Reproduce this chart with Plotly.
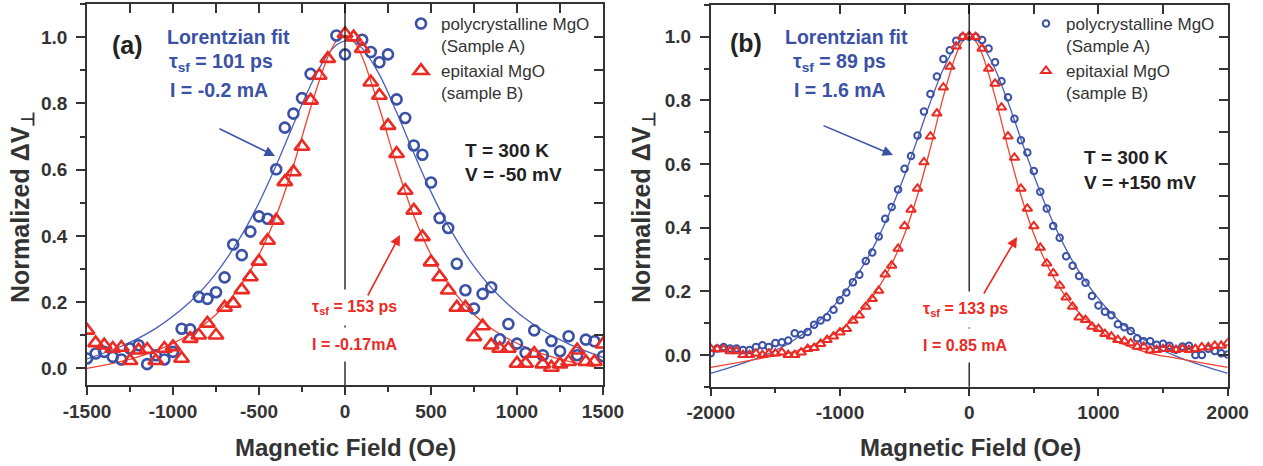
import plotly.graph_objects as go

W, H = 1263, 466

# ---------------- data : panel (a) ----------------
a_poly_x = [-1500, -1450, -1400, -1350, -1300, -1250, -1200, -1150, -1100, -1050, -1000, -950, -900,
            -850, -800, -750, -700, -650, -600, -550, -500, -450, -400, -350, -300, -250, -200,
            -50, 0, 100, 150, 200, 250, 300, 350, 400, 450, 500, 550, 600, 650, 700, 750, 800,
            850, 900, 950, 1000, 1050, 1100, 1150, 1200, 1250, 1300, 1350, 1400, 1450, 1500]
a_poly_y = [0.03, 0.045, 0.05, 0.035, 0.027, 0.06, 0.07, 0.013, 0.04, 0.027, 0.05, 0.12, 0.118,
            0.216, 0.21, 0.23, 0.275, 0.374, 0.342, 0.413, 0.459, 0.452, 0.601, 0.727, 0.769, 0.816, 0.889,
            1.005, 0.948, 0.992, 0.955, 0.924, 0.948, 0.812, 0.756, 0.673, 0.645, 0.561, 0.454, 0.424,
            0.316, 0.236, 0.181, 0.225, 0.245, 0.088, 0.134, 0.075, 0.047, 0.115, 0.040, 0.083, 0.052,
            0.097, 0.040, 0.087, 0.082, 0.037]

a_epi_x = [-1500, -1450, -1400, -1350, -1300, -1250, -1200, -1150, -1100, -1050, -1000, -950, -900,
           -850, -800, -750, -700, -650, -600, -550, -500, -450, -400, -350, -300, -250, -200, -150,
           -100, 0, 50, 100, 150, 200, 250, 300, 350, 400, 450, 500, 550, 600, 650, 700, 750, 800,
           850, 900, 950, 1000, 1050, 1100, 1150, 1200, 1250, 1300, 1350, 1400, 1450, 1500]
a_epi_y = [0.115, 0.077, 0.070, 0.060, 0.063, 0.023, 0.055, 0.057, 0.023, 0.060, 0.065, 0.030, 0.090,
           0.100, 0.136, 0.100, 0.184, 0.196, 0.237, 0.276, 0.323, 0.386, 0.447, 0.563, 0.593, 0.670,
           0.809, 0.884, 0.935, 1.010, 1.0, 0.965, 0.864, 0.824, 0.733, 0.648, 0.537, 0.477, 0.397,
           0.321, 0.276, 0.236, 0.184, 0.184, 0.095, 0.128, 0.070, 0.060, 0.060, 0.015, 0.015, 0.045,
           0.013, 0.003, 0.013, 0.020, 0.055, 0.020, 0.020, 0.073]

a_fitA_x = [-1500, -1300, -1100, -900, -750, -600, -500, -400, -300, -200, -100, -50, 0, 50, 100,
            200, 300, 400, 500, 600, 750, 900, 1100, 1300, 1500]
a_fitA_y = [0.029, 0.067, 0.121, 0.201, 0.287, 0.403, 0.500, 0.613, 0.736, 0.855, 0.948, 0.976, 0.989,
            0.986, 0.966, 0.887, 0.773, 0.650, 0.533, 0.431, 0.308, 0.217, 0.131, 0.074, 0.033]

a_fitB_x = [-1500, -1300, -1100, -900, -750, -600, -500, -400, -300, -200, -100, -50, 0, 50, 100,
            200, 300, 400, 500, 600, 750, 900, 1100, 1300, 1500]
a_fitB_y = [0.000, 0.021, 0.053, 0.104, 0.163, 0.255, 0.343, 0.461, 0.612, 0.786, 0.940, 0.988, 1.005,
            0.988, 0.940, 0.786, 0.612, 0.461, 0.343, 0.255, 0.163, 0.104, 0.053, 0.021, 0.000]

# ---------------- data : panel (b) ----------------
b_x = [-2000, -1950, -1900, -1850, -1800, -1750, -1700, -1650, -1600, -1550, -1500, -1450, -1400,
       -1350, -1300, -1250, -1200, -1150, -1100, -1050, -1000, -950, -900, -850, -800, -750, -700,
       -650, -600, -550, -500, -450, -400, -350, -300, -250, -200, -150, -100, -50, 0, 50, 100, 150,
       200, 250, 300, 350, 400, 450, 500, 550, 600, 650, 700, 750, 800, 850, 900, 950, 1000, 1050,
       1100, 1150, 1200, 1250, 1300, 1350, 1400, 1450, 1500, 1550, 1600, 1650, 1700, 1750, 1800,
       1850, 1900, 1950, 2000]
b_poly_y = [0.005, 0.02, 0.025, 0.02, 0.02, 0.015, 0.015, 0.025, 0.03, 0.025, 0.037, 0.04, 0.045,
            0.068, 0.063, 0.072, 0.095, 0.108, 0.118, 0.142, 0.172, 0.196, 0.228, 0.252, 0.295, 0.322,
            0.372, 0.428, 0.465, 0.52, 0.585, 0.625, 0.69, 0.765, 0.82, 0.875, 0.93, 0.958, 0.988, 1.0,
            1.0, 1.0, 0.99, 0.963, 0.92, 0.86, 0.81, 0.742, 0.675, 0.636, 0.578, 0.513, 0.46, 0.405,
            0.368, 0.31, 0.28, 0.248, 0.227, 0.185, 0.155, 0.136, 0.125, 0.096, 0.087, 0.075, 0.052,
            0.043, 0.043, 0.032, 0.035, 0.029, 0.016, 0.026, 0.029, 0.0, 0.0, 0.019, 0.012, 0.005, 0.001]
b_epi_y = [0.02, 0.018, 0.018, 0.012, 0.012, 0.0, 0.0, 0.005, 0.0, 0.005, 0.005, 0.008, 0.0, 0.0,
           0.008, 0.019, 0.022, 0.035, 0.047, 0.058, 0.071, 0.082, 0.108, 0.124, 0.152, 0.176, 0.202,
           0.253, 0.281, 0.334, 0.405, 0.457, 0.523, 0.606, 0.687, 0.759, 0.841, 0.906, 0.970, 1.0,
           1.003, 1.0, 0.963, 0.900, 0.853, 0.778, 0.687, 0.620, 0.523, 0.460, 0.405, 0.337, 0.288,
           0.257, 0.218, 0.181, 0.152, 0.118, 0.110, 0.089, 0.082, 0.066, 0.058, 0.047, 0.043, 0.037,
           0.026, 0.026, 0.014, 0.016, 0.019, 0.019, 0.016, 0.019, 0.016, 0.019, 0.024, 0.024, 0.029,
           0.029, 0.037]

b_fit_x = [-2000, -1800, -1600, -1400, -1200, -1000, -800, -700, -600, -500, -400, -300, -200, -100,
           -50, 0, 50, 100, 200, 300, 400, 500, 600, 700, 800, 1000, 1200, 1400, 1600, 1800, 2000]
b_fitA_y = [-0.058, -0.033, -0.004, 0.035, 0.093, 0.177, 0.295, 0.372, 0.462, 0.565, 0.679, 0.795,
            0.899, 0.973, 0.993, 1.0, 0.993, 0.973, 0.899, 0.795, 0.679, 0.565, 0.462, 0.372, 0.295,
            0.177, 0.093, 0.035, -0.004, -0.033, -0.058]
b_fitB_y = [-0.039, -0.025, -0.010, 0.005, 0.032, 0.078, 0.155, 0.212, 0.285, 0.380, 0.502, 0.651,
            0.812, 0.946, 0.986, 1.0, 0.986, 0.946, 0.812, 0.651, 0.502, 0.380, 0.285, 0.212, 0.155,
            0.078, 0.032, 0.005, -0.010, -0.025, -0.039]

# tick labels
a_xticks = [-1500, -1000, -500, 0, 500, 1000, 1500]
a_xlabels = ["-1500", "-1000", "-500", "0", "500", "1000", "1500"]
b_xticks = [-2000, -1000, 0, 1000, 2000]
b_xlabels = ["-2000", "-1000", "0", "1000", "2000"]
y_ticks = [0.0, 0.2, 0.4, 0.6, 0.8, 1.0]
y_labels = ["0.0", "0.2", "0.4", "0.6", "0.8", "1.0"]

legend_names = ["polycrystalline MgO<br>(Sample A)", "epitaxial MgO<br>(sample B)"]

# ---------------- styling ----------------
BLUE = "#3a51a6"
BLUE_LINE = "#4a5fb8"
RED = "#ec2a24"
RED_LINE = "#f0442f"
DARK = "#333333"
FONT = "Liberation Sans, Arial, sans-serif"


def P(px, py):
    return px / W, 1 - py / H


fig = go.Figure()

# panel (a)
fig.add_trace(go.Scatter(x=a_fitA_x, y=a_fitA_y, mode="lines", line=dict(color=BLUE_LINE, width=1.3, shape="spline"),
                         showlegend=False, hoverinfo="skip", xaxis="x", yaxis="y"))
fig.add_trace(go.Scatter(x=a_fitB_x, y=a_fitB_y, mode="lines", line=dict(color=RED_LINE, width=1.3, shape="spline"),
                         showlegend=False, hoverinfo="skip", xaxis="x", yaxis="y"))
fig.add_trace(go.Scatter(x=a_poly_x, y=a_poly_y, mode="markers", name=legend_names[0],
                         marker=dict(symbol="circle-open", size=10, color=BLUE, line=dict(width=2.6)),
                         xaxis="x", yaxis="y", legend="legend"))
fig.add_trace(go.Scatter(x=a_epi_x, y=a_epi_y, mode="markers", name=legend_names[1],
                         marker=dict(symbol="triangle-up-open", size=13, color=RED, line=dict(width=2.6)),
                         xaxis="x", yaxis="y", legend="legend"))

# panel (b)
fig.add_trace(go.Scatter(x=b_fit_x, y=b_fitA_y, mode="lines", line=dict(color=BLUE_LINE, width=1.3, shape="spline"),
                         showlegend=False, hoverinfo="skip", xaxis="x2", yaxis="y2"))
fig.add_trace(go.Scatter(x=b_fit_x, y=b_fitB_y, mode="lines", line=dict(color=RED_LINE, width=1.3, shape="spline"),
                         showlegend=False, hoverinfo="skip", xaxis="x2", yaxis="y2"))
fig.add_trace(go.Scatter(x=b_x, y=b_poly_y, mode="markers", name=legend_names[0],
                         marker=dict(symbol="circle-open", size=6.5, color=BLUE, line=dict(width=2)),
                         xaxis="x2", yaxis="y2", legend="legend2"))
fig.add_trace(go.Scatter(x=b_x, y=b_epi_y, mode="markers", name=legend_names[1],
                         marker=dict(symbol="triangle-up-open", size=8.5, color=RED, line=dict(width=2)),
                         xaxis="x2", yaxis="y2", legend="legend2"))

# empty traces to host the mirrored inward-tick axes
for xa, ya in [("x3", "y"), ("x", "y3"), ("x4", "y2"), ("x2", "y4")]:
    fig.add_trace(go.Scatter(x=[], y=[], xaxis=xa, yaxis=ya, showlegend=False, hoverinfo="skip"))

tickfont = dict(family=FONT, size=19, color=DARK, weight="bold")
dom_ax = [87 / W, 603 / W]
dom_ay = [1 - 385 / H, 1 - 4 / H]
dom_bx = [710.7 / W, 1227.7 / W]
dom_by = [1 - 386.7 / H, 1 - 5 / H]

common_x = dict(showgrid=False, zeroline=False, showline=True, linecolor=DARK, linewidth=1.5, mirror=True,
                ticks="outside", ticklen=8, tickwidth=1.5, tickcolor=DARK, tickfont=tickfont, tickmode="array",
                automargin=False)
common_y = dict(showgrid=False, zeroline=False, showline=True, linecolor=DARK, linewidth=1.5, mirror=True,
                ticks="outside", ticklen=9, tickwidth=1.5, tickcolor=DARK, tickfont=tickfont, tickmode="array",
                tickvals=y_ticks, ticktext=y_labels, automargin=False, ticklabelstandoff=5,
                minor=dict(tickmode="linear", tick0=0, dtick=0.1, ticks="outside", ticklen=5, tickwidth=1.5,
                           tickcolor=DARK))
inner = dict(showgrid=False, zeroline=False, showline=False, showticklabels=False, ticks="inside",
             ticklen=9, tickwidth=1.5, tickcolor=DARK, tickmode="linear", automargin=False)

fig.update_layout(
    width=W, height=H, margin=dict(l=0, r=0, t=0, b=0, pad=0, autoexpand=False),
    paper_bgcolor="white", plot_bgcolor="white",
    xaxis=dict(domain=dom_ax, range=[-1500, 1500], anchor="y", tickvals=a_xticks, ticktext=a_xlabels,
               minor=dict(tickmode="linear", tick0=0, dtick=250, ticks="outside", ticklen=5, tickwidth=1.5,
                          tickcolor=DARK), **common_x),
    yaxis=dict(domain=dom_ay, range=[-0.05, 1.1], anchor="x", **common_y),
    xaxis2=dict(domain=dom_bx, range=[-2000, 2000], anchor="y2", tickvals=b_xticks, ticktext=b_xlabels,
                minor=dict(tickmode="linear", tick0=0, dtick=500, ticks="outside", ticklen=5, tickwidth=1.5,
                           tickcolor=DARK), **common_x),
    yaxis2=dict(domain=dom_by, range=[-0.1, 1.1], anchor="x2", **common_y),
    xaxis3=dict(domain=dom_ax, range=[-1500, 1500], overlaying="x", anchor="y", side="top",
                tick0=0, dtick=250, **inner),
    yaxis3=dict(domain=dom_ay, range=[-0.05, 1.1], overlaying="y", anchor="x", side="right",
                tick0=0, dtick=0.1, **inner),
    xaxis4=dict(domain=dom_bx, range=[-2000, 2000], overlaying="x2", anchor="y2", side="top",
                tick0=0, dtick=500, **inner),
    yaxis4=dict(domain=dom_by, range=[-0.1, 1.1], overlaying="y2", anchor="x2", side="right",
                tick0=0, dtick=0.1, **inner),
    legend=dict(x=P(401, 0)[0], y=P(0, 6)[1], xanchor="left", yanchor="top", valign="top",
                bgcolor="rgba(0,0,0,0)", font=dict(family=FONT, size=17, color=DARK), tracegroupgap=0,
                itemsizing="trace"),
    legend2=dict(x=P(1026, 0)[0], y=P(0, 6)[1], xanchor="left", yanchor="top", valign="top",
                 bgcolor="rgba(0,0,0,0)", font=dict(family=FONT, size=17, color=DARK), tracegroupgap=0,
                 itemsizing="trace"),
    showlegend=True,
)

# zero lines
for xr, yr in [("x", "y domain"), ("x2", "y2 domain")]:
    fig.add_shape(type="line", xref=xr, yref=yr, x0=0, x1=0, y0=0, y1=1,
                  line=dict(color="#111111", width=1.3))

ann = []


def text(px, py, s, size, color, anchor="left", weight="bold", bg=None, pad=1):
    x, y = P(px, py)
    d = dict(x=x, y=y, xref="paper", yref="paper", text=s, showarrow=False, xanchor=anchor, yanchor="middle",
             font=dict(family=FONT, size=size, color=color, weight=weight), borderpad=pad)
    if bg:
        d["bgcolor"] = bg
    ann.append(d)


def arrow(hx, hy, tx, ty, color):
    x, y = P(hx, hy)
    ann.append(dict(x=x, y=y, xref="paper", yref="paper", text="", showarrow=True, ax=tx - hx, ay=ty - hy,
                    arrowhead=2, arrowsize=1.3, arrowwidth=1.6, arrowcolor=color, standoff=0))


# panel (a) texts
text(127, 45, "(a)", 25, "#222222", anchor="center")
text(165, 37, "Lorentzian fit", 19.5, BLUE)
text(167, 63, "τ<sub>sf</sub> = 101 ps", 19.5, BLUE)
text(168, 90, "I = -0.2 mA", 19.5, BLUE)
text(463, 150, "T = 300 K", 19, "#222222")
text(463, 174, "V = -50 mV", 19, "#222222")
text(303, 307, "τ<sub>sf</sub> = 153 ps", 16, RED, bg="white", pad=8)
text(303, 344, "I = -0.17mA", 16, RED, bg="white", pad=8)
arrow(275, 156, 218, 128, BLUE)
arrow(400, 235, 367, 297, RED)
text(22, 207, "Normalized ΔV<sub>⊥</sub>", 25, DARK, anchor="center")
ann[-1]["textangle"] = -90
text(345, 447, "Magnetic Field (Oe)", 24, DARK, anchor="center")

# panel (b) texts
text(746, 43, "(b)", 25, "#222222", anchor="center")
text(846, 37, "Lorentzian fit", 19.5, BLUE, anchor="center")
text(839, 63, "τ<sub>sf</sub> = 89 ps", 19.5, BLUE, anchor="center")
text(840, 90, "I = 1.6 mA", 19.5, BLUE, anchor="center")
text(1082, 157, "T = 300 K", 19, "#222222")
text(1082, 182, "V = +150 mV", 19, "#222222")
text(914, 309, "τ<sub>sf</sub> = 133 ps", 16, RED, bg="white", pad=8)
text(914, 345, "I = 0.85 mA", 16, RED, bg="white", pad=8)
arrow(893, 155, 822, 125, BLUE)
arrow(1017, 237, 983, 295, RED)
text(643, 207, "Normalized ΔV<sub>⊥</sub>", 25, DARK, anchor="center")
ann[-1]["textangle"] = -90
text(970, 447, "Magnetic Field (Oe)", 24, DARK, anchor="center")

fig.update_layout(annotations=ann)
fig.write_html("out.html", config={"displayModeBar": False},
               post_script="document.body.style.margin='0';document.body.style.overflow='hidden';")
